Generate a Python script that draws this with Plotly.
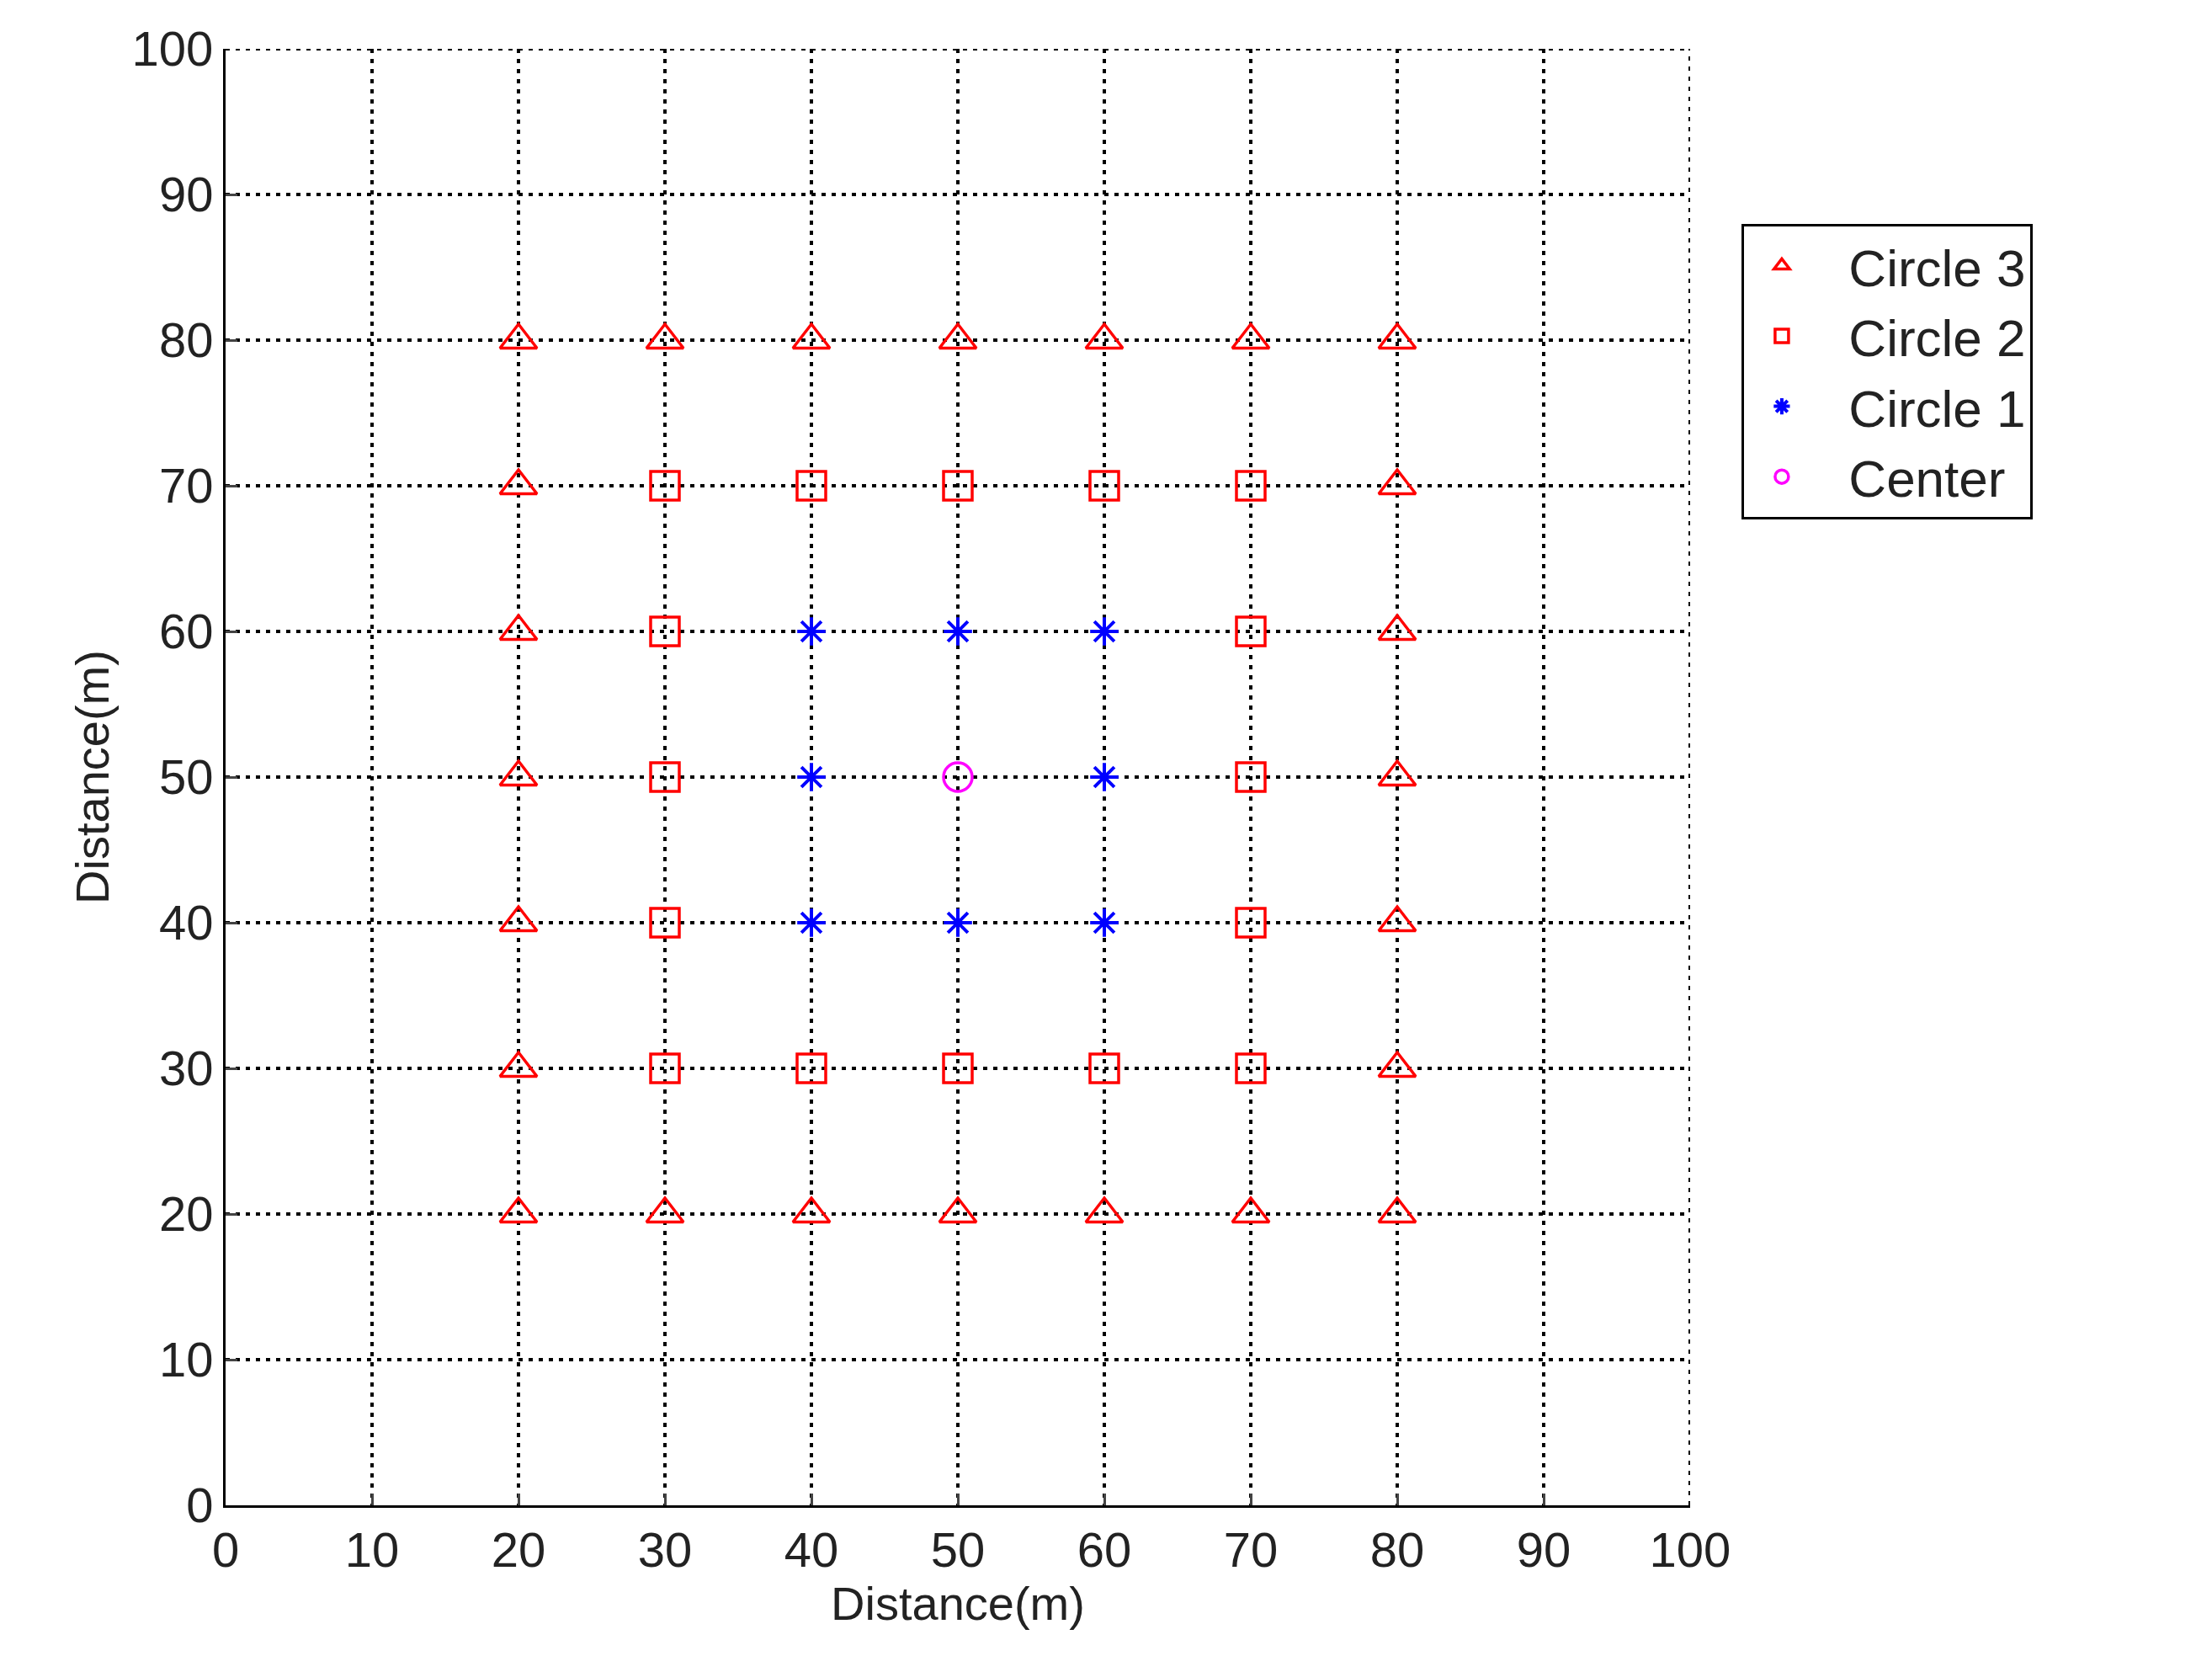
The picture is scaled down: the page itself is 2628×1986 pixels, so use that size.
import plotly.graph_objects as go

c3_x = [20,30,40,50,60,70,80, 20,80, 20,80, 20,80, 20,80, 20,80, 20,30,40,50,60,70,80]
c3_y = [80,80,80,80,80,80,80, 70,70, 60,60, 50,50, 40,40, 30,30, 20,20,20,20,20,20,20]
c2_x = [30,40,50,60,70, 30,70, 30,70, 30,70, 30,40,50,60,70]
c2_y = [70,70,70,70,70, 60,60, 50,50, 40,40, 30,30,30,30,30]
c1_x = [40,50,60, 40,60, 40,50,60]
c1_y = [60,60,60, 50,50, 40,40,40]
cen_x = [50]
cen_y = [50]
ticks = [0,10,20,30,40,50,60,70,80,90,100]

fig = go.Figure()
fig.add_trace(go.Scatter(x=c3_x, y=c3_y, mode="markers", name="  Circle 3",
    marker=dict(symbol="triangle-up-open", size=38, color="red", line=dict(width=3.5))))
fig.add_trace(go.Scatter(x=c2_x, y=c2_y, mode="markers", name="  Circle 2",
    marker=dict(symbol="square-open", size=34, color="red", line=dict(width=3.5))))
fig.add_trace(go.Scatter(x=c1_x, y=c1_y, mode="markers", name="  Circle 1",
    marker=dict(symbol="asterisk-open", size=28, color="blue", line=dict(width=4, color="blue"))))
fig.add_trace(go.Scatter(x=cen_x, y=cen_y, mode="markers", name="  Center",
    marker=dict(symbol="circle-open", size=34, color="magenta", line=dict(width=3.5))))

ax = dict(range=[0,100], tickvals=ticks, showgrid=True, gridcolor="black", griddash="5px,7px",
          gridwidth=4, showline=True, linecolor="black", linewidth=3, ticks="inside",
          ticklen=14, tickwidth=3, zeroline=False, mirror=False,
          tickfont=dict(size=58, color="#222"), title_font=dict(size=56, color="#222"))
fig.update_layout(width=2628, height=1986, paper_bgcolor="white", plot_bgcolor="white",
    font=dict(family="Liberation Sans", color="#222"),
    margin=dict(l=260, r=628, t=50, b=206),
    xaxis=dict(ax, title=dict(text="Distance(m)", standoff=10)),
    yaxis=dict(ax, title=dict(text="Distance(m)", standoff=10)),
    legend=dict(x=1.035, y=0.88, xanchor="left", yanchor="top", bordercolor="black",
                borderwidth=3, font=dict(size=62), bgcolor="white", itemwidth=80,
                tracegroupgap=0))
fig.add_shape(type="line", xref="x", yref="y", x0=0, x1=100, y0=100, y1=100,
              line=dict(color="black", width=4, dash="5px,7px"))
fig.add_shape(type="line", xref="x", yref="y", x0=100, x1=100, y0=0, y1=100,
              line=dict(color="black", width=4, dash="5px,7px"))
fig.write_html("out.html")
